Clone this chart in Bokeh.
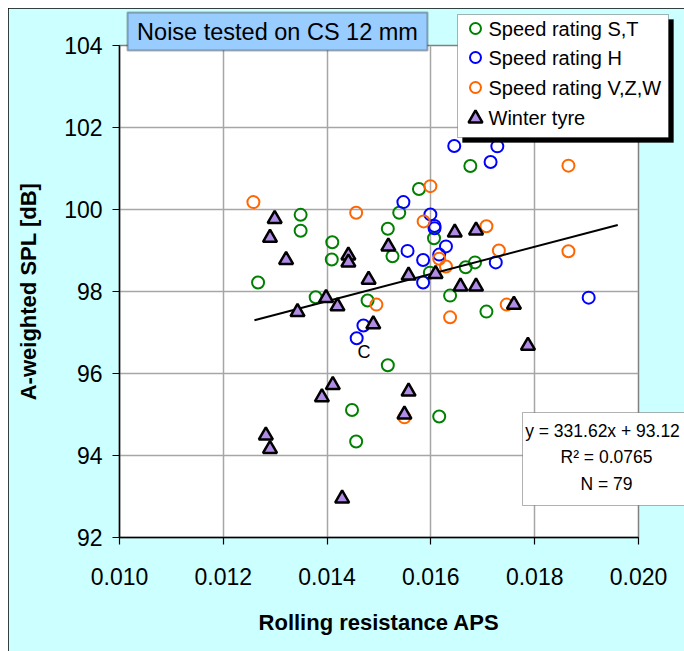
from bokeh.plotting import figure
from bokeh.models import (Range1d, FixedTicker, NumeralTickFormatter, Label, BoxAnnotation)
from bokeh.core.properties import value
from bokeh.embed import file_html
from bokeh.resources import INLINE

# ---------------- data ----------------
st_x = [0.01267, 0.01349, 0.01349, 0.01676, 0.01577, 0.01539, 0.01517, 0.01606, 0.01410, 0.01409,
        0.01526, 0.01667, 0.01685, 0.01598, 0.01378, 0.01478, 0.01637, 0.01707, 0.01517, 0.01448,
        0.01616, 0.01456]
st_y = [98.22, 99.87, 99.48, 101.06, 100.50, 99.92, 99.53, 99.30, 99.20, 98.78,
        98.86, 98.59, 98.71, 98.46, 97.86, 97.78, 97.90, 97.51, 96.20, 95.11,
        94.95, 94.34]

h_x = [0.01645, 0.01728, 0.01715, 0.01547, 0.01599, 0.01607, 0.01607, 0.01629, 0.01555, 0.01616,
       0.01585, 0.01725, 0.01585, 0.01470, 0.01457, 0.01904]
h_y = [101.55, 101.54, 101.16, 100.18, 99.88, 99.60, 99.54, 99.10, 98.99, 98.90,
       98.77, 98.71, 98.22, 97.17, 96.86, 97.85]

vzw_x = [0.01258, 0.01599, 0.01456, 0.01586, 0.01707, 0.01616, 0.01629, 0.01731, 0.01495, 0.01637,
         0.01549, 0.01865, 0.01865, 0.01746]
vzw_y = [100.18, 100.57, 99.92, 99.71, 99.59, 98.80, 98.61, 99.00, 97.68, 97.37,
         94.93, 101.07, 98.98, 97.68]

win_x = [0.01299, 0.01290, 0.01321, 0.01343, 0.01646, 0.01687, 0.01518, 0.01441, 0.01441, 0.01609,
         0.01557, 0.01480, 0.01657, 0.01687, 0.01398, 0.01420, 0.01489, 0.01411, 0.01390, 0.01557,
         0.01549, 0.01282, 0.01290, 0.01429, 0.01760, 0.01787]
win_y = [99.77, 99.31, 98.77, 97.50, 99.44, 99.49, 99.10, 98.88, 98.71, 98.43,
         98.39, 98.29, 98.12, 98.12, 97.84, 97.64, 97.20, 95.72, 95.42, 95.56,
         95.00, 94.49, 94.16, 92.95, 97.68, 96.68]

trend_x = [0.0126, 0.0196]
trend_y = [97.30, 99.62]

note_x = [0.01471]
note_y = [96.52]
note_text = ["C"]

x_ticks = [0.010, 0.012, 0.014, 0.016, 0.018, 0.020]
y_ticks = [92, 94, 96, 98, 100, 102, 104]

title_text = "Noise tested on CS 12 mm"
stats_lines = ["y = 331.62x + 93.12", "R² = 0.0765", "N = 79"]
x_title = "Rolling resistance APS"
y_title = "A-weighted SPL [dB]"
series_names = ["Speed rating S,T", "Speed rating H", "Speed rating V,Z,W", "Winter tyre"]

FONT = "Liberation Sans"
W, H = 676, 643

# ---------------- main chart ----------------
p = figure(width=W, height=H, output_backend="svg", toolbar_location=None,
           x_range=Range1d(0.010, 0.020), y_range=Range1d(92, 104),
           min_border_left=111, min_border_right=46, min_border_top=37, min_border_bottom=114,
           margin=(8, 0, 0, 8))

p.border_fill_color = "#CCFFFF"
p.background_fill_color = "white"
p.outline_line_color = "#808080"
p.outline_line_width = 1.5
p.styles = {"outline": "1px solid black", "outline-offset": "-1px"}

p.xaxis.ticker = FixedTicker(ticks=x_ticks)
p.yaxis.ticker = FixedTicker(ticks=y_ticks)
p.xaxis.formatter = NumeralTickFormatter(format="0.000")

for ax in (p.xaxis, p.yaxis):
    ax.major_tick_in = 0
    ax.major_tick_out = 7
    ax.minor_tick_line_color = None
    ax.axis_line_color = "black"
    ax.axis_line_width = 1.5
    ax.major_tick_line_color = "black"
    ax.major_tick_line_width = 1.2
    ax.major_label_text_font = FONT
    ax.major_label_text_font_size = "23px"
    ax.major_label_text_color = "black"
    ax.axis_label_text_font = FONT
    ax.axis_label_text_font_size = "22px"
    ax.axis_label_text_font_style = "bold"
    ax.axis_label_text_color = "black"

p.xaxis.axis_label = x_title
p.yaxis.axis_label = y_title
p.xaxis.major_label_standoff = 23
p.yaxis.major_label_standoff = 10
p.xaxis.axis_label_standoff = 22
p.yaxis.axis_label_standoff = 20

p.grid.grid_line_color = "#a6a6a6"
p.grid.grid_line_width = 1.5

CIRC = dict(marker="circle", size=12, fill_color=None, line_width=2)
TRI = dict(marker="triangle", size=14, fill_color="#B08CE6", line_color="black", line_width=2.5)
COLORS = ["#008000", "#0000FF", "#FF6600"]

p.scatter(st_x, st_y, line_color=COLORS[0], **CIRC)
p.scatter(h_x, h_y, line_color=COLORS[1], **CIRC)
p.scatter(vzw_x, vzw_y, line_color=COLORS[2], **CIRC)
p.line(trend_x, trend_y, line_color="black", line_width=2)
p.scatter(win_x, win_y, **TRI)

p.text(x=note_x, y=note_y, text=note_text, text_font=value(FONT), text_font_size="18px",
       text_align="center", text_baseline="middle", text_color="black")

# ---------------- overlay (separate root) for boxes that sit outside the plot frame ----------------
# its frame covers the whole canvas and its ranges are the canvas pixel extents
q = figure(width=W, height=H, output_backend="svg", toolbar_location=None,
           x_range=Range1d(0, W), y_range=Range1d(0, H),
           x_axis_location=None, y_axis_location=None,
           min_border=0, min_border_left=0, min_border_right=0,
           min_border_top=0, min_border_bottom=0,
           margin=(8, 0, 0, 8))
q.background_fill_alpha = 0
q.border_fill_alpha = 0
q.outline_line_color = None
q.grid.visible = False
q.styles = {"position": "absolute", "top": "0px", "left": "0px"}

def sbox(left, right, bottom, top, **kw):
    return BoxAnnotation(left=left, right=right, bottom=bottom, top=top,
                         left_units="screen", right_units="screen",
                         bottom_units="screen", top_units="screen", **kw)

# title box
q.add_layout(sbox(119, 419, 601, 639, fill_color="#99CCFF", fill_alpha=1.0,
                  line_color="black", line_width=2))
q.add_layout(Label(x=269, y=620, x_units="screen", y_units="screen", text=title_text,
                   text_font=FONT, text_font_size="23.5px", text_align="center",
                   text_baseline="middle", text_color="black"))

# legend: shadow, box, keys and labels
q.add_layout(sbox(454, 665, 509, 632, fill_color="black", fill_alpha=1.0,
                  line_color="black", line_width=1, level="underlay"))
q.add_layout(sbox(449, 660, 514, 637, fill_color="white", fill_alpha=1.0,
                  line_color="black", line_width=1, level="underlay"))
key_x = 467
key_y = [623, 594, 564, 534]
KEY_CIRC = dict(CIRC, size=11)
KEY_TRI = dict(TRI, size=14)
q.scatter([key_x], [key_y[0]], line_color=COLORS[0], **KEY_CIRC)
q.scatter([key_x], [key_y[1]], line_color=COLORS[1], **KEY_CIRC)
q.scatter([key_x], [key_y[2]], line_color=COLORS[2], **KEY_CIRC)
q.scatter([key_x], [key_y[3] - 1], **KEY_TRI)
for name, ky in zip(series_names, key_y):
    q.add_layout(Label(x=480, y=ky, x_units="screen", y_units="screen", text=name,
                       text_font=FONT, text_font_size="20px", text_align="left",
                       text_baseline="middle", text_color="black"))

# regression statistics box
q.add_layout(sbox(514, 692, 146, 239, fill_color="white", fill_alpha=1.0,
                  line_color="black", line_width=1))
for txt, cx, cy in zip(stats_lines, [594, 598, 598], [221, 195, 168]):
    q.add_layout(Label(x=cx, y=cy, x_units="screen", y_units="screen", text=txt,
                       text_font=FONT, text_font_size="17.5px", text_align="center",
                       text_baseline="middle", text_color="black"))

open("out.html", "w").write(file_html([p, q], INLINE))
